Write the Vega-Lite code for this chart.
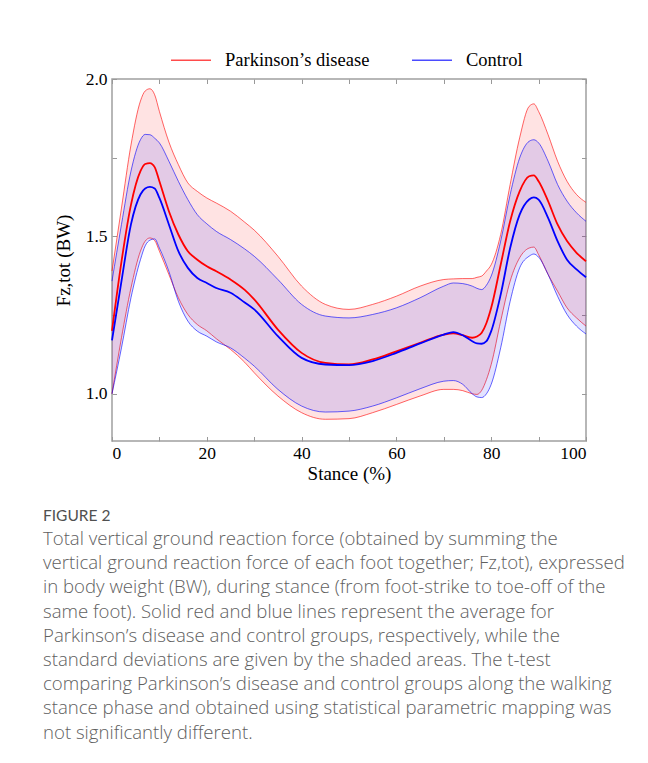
{
  "$schema": "https://vega.github.io/schema/vega-lite/v6.json",
  "width": 474,
  "height": 362,
  "autosize": {"type": "none"},
  "padding": {"left": 112, "top": 79, "right": 62, "bottom": 322},
  "background": "white",
  "config": {
    "view": {"stroke": "#a0a0a0", "strokeWidth": 1.5},
    "axis": {
      "domain": false, "grid": false, "tickColor": "#999999", "tickSize": -4.5, "tickWidth": 1,
      "labelFont": "Liberation Serif", "labelFontSize": 17.5, "labelColor": "#000000",
      "titleFont": "Liberation Serif", "titleFontSize": 19, "titleFontWeight": "normal", "titleColor": "#000000"
    }
  },
  "title": {
    "text": "FIGURE 2",
    "subtitle": [
      "Total vertical ground reaction force (obtained by summing the",
      "vertical ground reaction force of each foot together; Fz,tot), expressed",
      "in body weight (BW), during stance (from foot-strike to toe-off of the",
      "same foot). Solid red and blue lines represent the average for",
      "Parkinson’s disease and control groups, respectively, while the",
      "standard deviations are given by the shaded areas. The t-test",
      "comparing Parkinson’s disease and control groups along the walking",
      "stance phase and obtained using statistical parametric mapping was",
      "not significantly different."
    ],
    "orient": "bottom", "anchor": "start", "frame": "group", "dx": -69, "offset": 25,
    "font": "Lato", "fontSize": 15.5, "fontWeight": "normal", "color": "#505050",
    "subtitleFont": "Open Sans", "subtitleFontSize": 18.6, "subtitleFontWeight": 300, "subtitleColor": "#606060",
    "subtitleLineHeight": 24.2, "subtitlePadding": 6
  },
  "data": {"values": [
    {"x":0,"g":"Parkinson’s disease","m":1.2,"lo":1.0,"hi":1.39},{"x":0,"g":"Control","m":1.17,"lo":1.0,"hi":1.358},
    {"x":2,"g":"Parkinson’s disease","m":1.42,"lo":1.178,"hi":1.59},{"x":2,"g":"Control","m":1.358,"lo":1.146,"hi":1.538},
    {"x":4,"g":"Parkinson’s disease","m":1.6,"lo":1.336,"hi":1.79},{"x":4,"g":"Control","m":1.538,"lo":1.305,"hi":1.707},
    {"x":6,"g":"Parkinson’s disease","m":1.707,"lo":1.453,"hi":1.93},{"x":6,"g":"Control","m":1.633,"lo":1.426,"hi":1.807},
    {"x":7,"g":"Parkinson’s disease","m":1.73,"lo":1.485,"hi":1.962},{"x":7,"g":"Control","m":1.652,"lo":1.47,"hi":1.824},
    {"x":8,"g":"Parkinson’s disease","m":1.733,"lo":1.495,"hi":1.969},{"x":8,"g":"Control","m":1.657,"lo":1.488,"hi":1.823},
    {"x":9,"g":"Parkinson’s disease","m":1.72,"lo":1.487,"hi":1.95},{"x":9,"g":"Control","m":1.652,"lo":1.492,"hi":1.812},
    {"x":10,"g":"Parkinson’s disease","m":1.675,"lo":1.453,"hi":1.897},{"x":10,"g":"Control","m":1.622,"lo":1.463,"hi":1.797},
    {"x":12,"g":"Parkinson’s disease","m":1.58,"lo":1.379,"hi":1.8},{"x":12,"g":"Control","m":1.538,"lo":1.389,"hi":1.739},
    {"x":14,"g":"Parkinson’s disease","m":1.506,"lo":1.305,"hi":1.728},{"x":14,"g":"Control","m":1.453,"lo":1.294,"hi":1.675},
    {"x":16,"g":"Parkinson’s disease","m":1.453,"lo":1.252,"hi":1.67},{"x":16,"g":"Control","m":1.4,"lo":1.231,"hi":1.617},
    {"x":18,"g":"Parkinson’s disease","m":1.426,"lo":1.22,"hi":1.643},{"x":18,"g":"Control","m":1.368,"lo":1.199,"hi":1.569},
    {"x":20,"g":"Parkinson’s disease","m":1.405,"lo":1.2,"hi":1.622},{"x":20,"g":"Control","m":1.352,"lo":1.183,"hi":1.54},
    {"x":22,"g":"Parkinson’s disease","m":1.389,"lo":1.175,"hi":1.606},{"x":22,"g":"Control","m":1.336,"lo":1.165,"hi":1.516},
    {"x":25,"g":"Parkinson’s disease","m":1.363,"lo":1.141,"hi":1.58},{"x":25,"g":"Control","m":1.321,"lo":1.146,"hi":1.49},
    {"x":28,"g":"Parkinson’s disease","m":1.33,"lo":1.1,"hi":1.545},{"x":28,"g":"Control","m":1.29,"lo":1.113,"hi":1.46},
    {"x":30,"g":"Parkinson’s disease","m":1.3,"lo":1.067,"hi":1.52},{"x":30,"g":"Control","m":1.268,"lo":1.088,"hi":1.437},
    {"x":35,"g":"Parkinson’s disease","m":1.204,"lo":0.993,"hi":1.437},{"x":35,"g":"Control","m":1.183,"lo":1.014,"hi":1.363},
    {"x":40,"g":"Parkinson’s disease","m":1.13,"lo":0.94,"hi":1.342},{"x":40,"g":"Control","m":1.114,"lo":0.961,"hi":1.284},
    {"x":45,"g":"Parkinson’s disease","m":1.098,"lo":0.919,"hi":1.284},{"x":45,"g":"Control","m":1.093,"lo":0.942,"hi":1.247},
    {"x":50,"g":"Parkinson’s disease","m":1.093,"lo":0.921,"hi":1.268},{"x":50,"g":"Control","m":1.091,"lo":0.945,"hi":1.241},
    {"x":55,"g":"Parkinson’s disease","m":1.109,"lo":0.94,"hi":1.284},{"x":55,"g":"Control","m":1.104,"lo":0.961,"hi":1.252},
    {"x":60,"g":"Parkinson’s disease","m":1.135,"lo":0.966,"hi":1.31},{"x":60,"g":"Control","m":1.13,"lo":0.987,"hi":1.273},
    {"x":65,"g":"Parkinson’s disease","m":1.162,"lo":0.993,"hi":1.342},{"x":65,"g":"Control","m":1.16,"lo":1.016,"hi":1.305},
    {"x":70,"g":"Parkinson’s disease","m":1.188,"lo":1.014,"hi":1.363},{"x":70,"g":"Control","m":1.188,"lo":1.04,"hi":1.342},
    {"x":72,"g":"Parkinson’s disease","m":1.192,"lo":1.014,"hi":1.365},{"x":72,"g":"Control","m":1.196,"lo":1.042,"hi":1.352},
    {"x":74,"g":"Parkinson’s disease","m":1.186,"lo":1.01,"hi":1.366},{"x":74,"g":"Control","m":1.186,"lo":1.03,"hi":1.35},
    {"x":76,"g":"Parkinson’s disease","m":1.178,"lo":1.0,"hi":1.366},{"x":76,"g":"Control","m":1.167,"lo":1.0,"hi":1.342},
    {"x":77,"g":"Parkinson’s disease","m":1.182,"lo":0.998,"hi":1.37},{"x":77,"g":"Control","m":1.16,"lo":0.99,"hi":1.335},
    {"x":78,"g":"Parkinson’s disease","m":1.194,"lo":1.011,"hi":1.374},{"x":78,"g":"Control","m":1.159,"lo":0.988,"hi":1.331},
    {"x":79,"g":"Parkinson’s disease","m":1.225,"lo":1.045,"hi":1.39},{"x":79,"g":"Control","m":1.167,"lo":1.0,"hi":1.345},
    {"x":80,"g":"Parkinson’s disease","m":1.273,"lo":1.093,"hi":1.41},{"x":80,"g":"Control","m":1.199,"lo":1.03,"hi":1.374},
    {"x":82,"g":"Parkinson’s disease","m":1.41,"lo":1.231,"hi":1.506},{"x":82,"g":"Control","m":1.315,"lo":1.146,"hi":1.485},
    {"x":84,"g":"Parkinson’s disease","m":1.548,"lo":1.358,"hi":1.665},{"x":84,"g":"Control","m":1.463,"lo":1.294,"hi":1.633},
    {"x":86,"g":"Parkinson’s disease","m":1.643,"lo":1.432,"hi":1.813},{"x":86,"g":"Control","m":1.569,"lo":1.4,"hi":1.749},
    {"x":88,"g":"Parkinson’s disease","m":1.691,"lo":1.463,"hi":1.913},{"x":88,"g":"Control","m":1.617,"lo":1.437,"hi":1.802},
    {"x":89,"g":"Parkinson’s disease","m":1.694,"lo":1.466,"hi":1.921},{"x":89,"g":"Control","m":1.624,"lo":1.444,"hi":1.807},
    {"x":90,"g":"Parkinson’s disease","m":1.675,"lo":1.442,"hi":1.897},{"x":90,"g":"Control","m":1.617,"lo":1.434,"hi":1.797},
    {"x":92,"g":"Parkinson’s disease","m":1.612,"lo":1.379,"hi":1.823},{"x":92,"g":"Control","m":1.559,"lo":1.379,"hi":1.739},
    {"x":94,"g":"Parkinson’s disease","m":1.538,"lo":1.326,"hi":1.739},{"x":94,"g":"Control","m":1.485,"lo":1.31,"hi":1.665},
    {"x":96,"g":"Parkinson’s disease","m":1.485,"lo":1.273,"hi":1.675},{"x":96,"g":"Control","m":1.426,"lo":1.252,"hi":1.612},
    {"x":98,"g":"Parkinson’s disease","m":1.448,"lo":1.241,"hi":1.633},{"x":98,"g":"Control","m":1.395,"lo":1.215,"hi":1.575},
    {"x":100,"g":"Parkinson’s disease","m":1.421,"lo":1.215,"hi":1.608},{"x":100,"g":"Control","m":1.37,"lo":1.19,"hi":1.548}
  ]},
  "layer": [
    {
      "encoding": {
        "x": {"field": "x", "type": "quantitative", "scale": {"domain": [0, 100], "nice": false, "zero": false},
              "axis": {"values": [0,10,20,30,40,50,60,70,80,90,100], "labelExpr": "datum.value % 20 == 0 ? datum.label : ''", "title": "Stance (%)", "labelPadding": 7.5, "titlePadding": 3}}
      },
      "layer": [
        {"transform": [{"filter": "datum.g == 'Parkinson’s disease'"}],
         "mark": {"type": "area", "color": "#ff0000", "fillOpacity": 0.11, "interpolate": "monotone"},
         "encoding": {"y": {"field": "lo", "type": "quantitative", "scale": {"domain": [0.85, 2.0], "nice": false, "zero": false},
              "axis": {"values": [1.0,1.25,1.5,1.75,2.0], "labelExpr": "(datum.value*2) % 1 == 0 ? format(datum.value, '.1f') : ''", "title": "Fz,tot (BW)", "labelPadding": 9.5, "titlePadding": 12}},
                      "y2": {"field": "hi"}}},
        {"transform": [{"filter": "datum.g == 'Parkinson’s disease'"}],
         "mark": {"type": "line", "color": "#ff0000", "strokeWidth": 1, "opacity": 0.6, "interpolate": "monotone"},
         "encoding": {"y": {"field": "lo", "type": "quantitative", "title": "Fz,tot (BW)"}}},
        {"transform": [{"filter": "datum.g == 'Parkinson’s disease'"}],
         "mark": {"type": "line", "color": "#ff0000", "strokeWidth": 1, "opacity": 0.6, "interpolate": "monotone"},
         "encoding": {"y": {"field": "hi", "type": "quantitative", "title": "Fz,tot (BW)"}}},
        {"transform": [{"filter": "datum.g == 'Control'"}],
         "mark": {"type": "area", "color": "#0000ff", "fillOpacity": 0.11, "interpolate": "monotone"},
         "encoding": {"y": {"field": "lo", "type": "quantitative", "title": "Fz,tot (BW)"}, "y2": {"field": "hi"}}},
        {"transform": [{"filter": "datum.g == 'Control'"}],
         "mark": {"type": "line", "color": "#0000ff", "strokeWidth": 1, "opacity": 0.6, "interpolate": "monotone"},
         "encoding": {"y": {"field": "lo", "type": "quantitative", "title": "Fz,tot (BW)"}}},
        {"transform": [{"filter": "datum.g == 'Control'"}],
         "mark": {"type": "line", "color": "#0000ff", "strokeWidth": 1, "opacity": 0.6, "interpolate": "monotone"},
         "encoding": {"y": {"field": "hi", "type": "quantitative", "title": "Fz,tot (BW)"}}},
        {"transform": [{"filter": "datum.g == 'Parkinson’s disease'"}],
         "mark": {"type": "line", "strokeWidth": 1.8, "interpolate": "monotone"},
         "encoding": {"y": {"field": "m", "type": "quantitative", "title": "Fz,tot (BW)"},
                      "color": {"field": "g", "type": "nominal", "scale": {"domain": ["Parkinson’s disease", "Control"], "range": ["#ff0000", "#0000ff"]},
                                "legend": {"orient": "none", "legendX": 58, "legendY": -40, "direction": "horizontal", "title": null,
                                           "symbolType": "stroke", "symbolSize": 1600, "symbolStrokeWidth": 1.5, "symbolOpacity": 0.7,
                                           "labelFont": "Liberation Serif", "labelFontSize": 18.5, "labelColor": "#000000", "labelOffset": 13, "columnPadding": 39, "labelLimit": 400}}}},
        {"transform": [{"filter": "datum.g == 'Control'"}],
         "mark": {"type": "line", "strokeWidth": 1.8, "interpolate": "monotone"},
         "encoding": {"y": {"field": "m", "type": "quantitative", "title": "Fz,tot (BW)"},
                      "color": {"field": "g", "type": "nominal"}}}
      ]
    },
    {
      "mark": {"type": "point", "opacity": 0},
      "encoding": {
        "x": {"field": "x", "type": "quantitative", "axis": {"orient": "top", "values": [0,10,20,30,40,50,60,70,80,90,100], "labels": false, "title": null}},
        "y": {"field": "m", "type": "quantitative", "axis": {"orient": "right", "values": [1.0,1.25,1.5,1.75,2.0], "labels": false, "title": null}}
      }
    }
  ],
  "resolve": {"axis": {"x": "independent", "y": "independent"}}
}
